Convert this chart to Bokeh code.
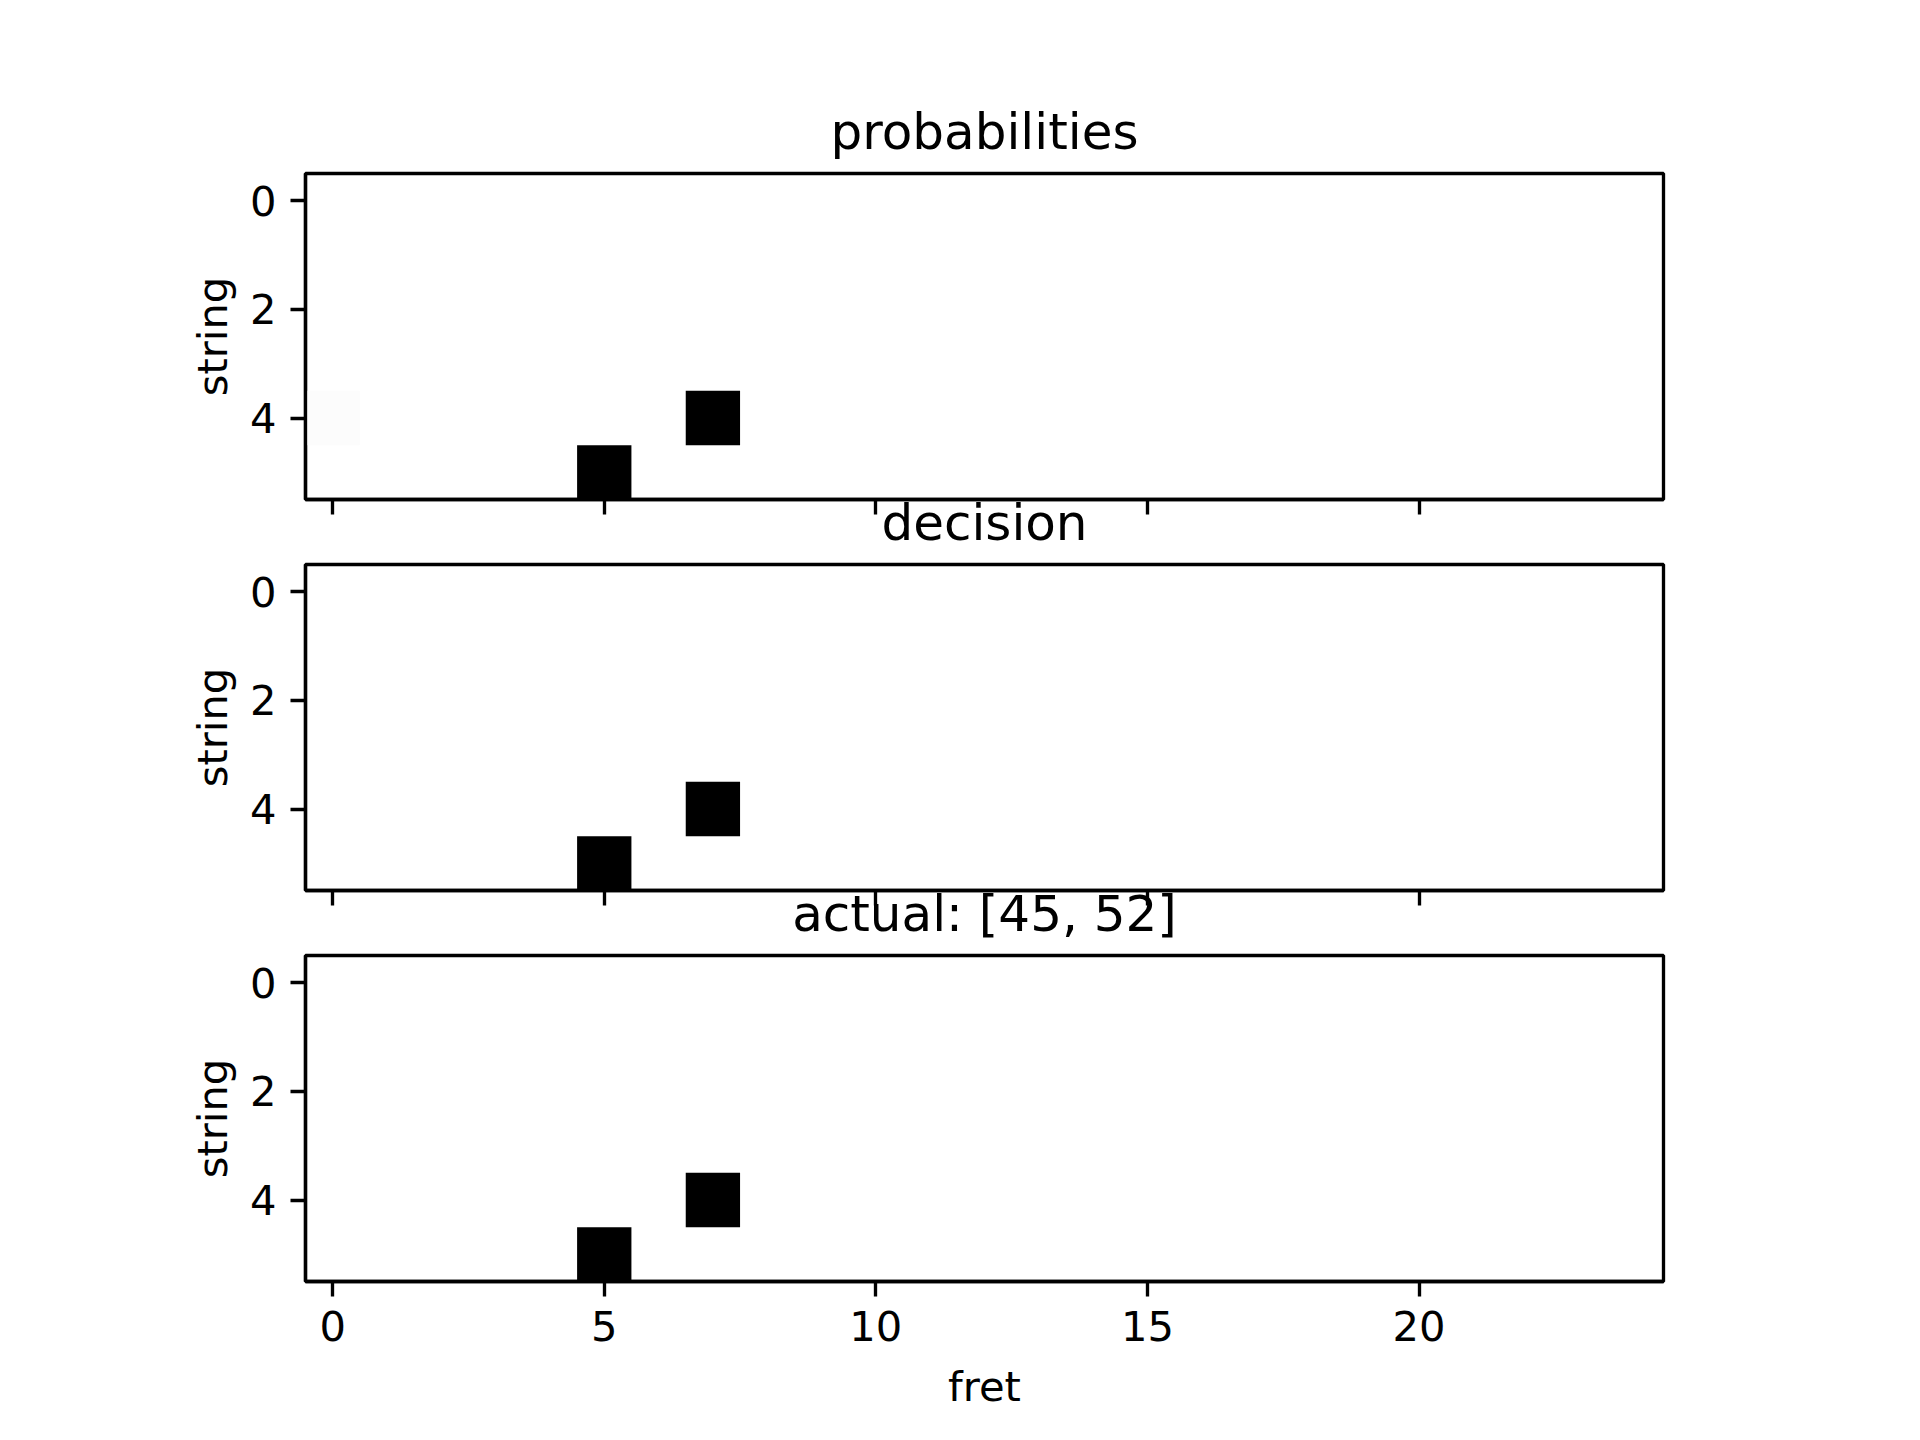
from bokeh.plotting import figure
from bokeh.layouts import column
from bokeh.models import Range1d, FixedTicker
from bokeh.palettes import Greys256
from bokeh.embed import file_html
from bokeh.resources import INLINE

# ---- data ----
n_frets = 25
n_strings = 6
x_ticks = [0, 5, 10, 15, 20]
y_ticks = [0, 2, 4]

titles = ["probabilities", "decision", "actual: [45, 52]"]

prob_fret = [0, 5, 7]
prob_string = [4, 5, 4]
prob_value = [0.012, 1.0, 1.0]

dec_fret = [5, 7]
dec_string = [5, 4]
dec_value = [1.0, 1.0]

act_fret = [5, 7]
act_string = [5, 4]
act_value = [1.0, 1.0]

panels = [
    (prob_fret, prob_string, prob_value),
    (dec_fret, dec_string, dec_value),
    (act_fret, act_string, act_value),
]

FONT = "DejaVu Sans"
TICK_FS = "41.67px"
TITLE_FS = "50px"
LW = 3.33

gray_r = list(reversed(Greys256))  # 0 -> white, 1 -> black (like matplotlib gray_r)

GAP = 65
TOP0 = 173
BOT = 100
TOPN = 100

figs = []
for i, ((fx, sy, vals), title) in enumerate(zip(panels, titles)):
    top_b = TOP0 if i == 0 else TOPN
    bot_b = 140 if i == 2 else BOT
    p = figure(
        frame_width=1358, frame_height=326,
        x_range=Range1d(-0.5, n_frets - 0.5),
        y_range=Range1d(n_strings - 0.5, -0.5),
        output_backend="svg", toolbar_location=None, tools="",
        min_border_left=305, min_border_right=200,
        min_border_top=top_b, min_border_bottom=bot_b,
        background_fill_color="white", border_fill_color=None,
        title=title,
    )
    if i > 0:
        p.margin = (-(BOT + TOPN - GAP), 0, 0, 0)
    p.title.text_font = FONT
    p.title.text_font_size = TITLE_FS
    p.title.text_font_style = "normal"
    p.title.text_color = "black"
    p.title.align = "center"
    p.title.standoff = 26

    p.grid.visible = False
    p.outline_line_color = "black"
    p.outline_line_width = LW
    p.outline_line_alpha = 1.0

    colors = [gray_r[min(255, int(round(v * 255)))] for v in vals]
    p.rect(x=fx, y=sy, width=1, height=1, fill_color=colors, line_color=None)

    for ax in (p.xaxis[0], p.yaxis[0]):
        ax.axis_line_color = "black"
        ax.axis_line_width = LW
        ax.major_tick_line_color = "black"
        ax.major_tick_line_width = LW
        ax.major_tick_in = 0
        ax.major_tick_out = 15
        ax.minor_tick_line_color = None
        ax.major_label_text_font = FONT
        ax.major_label_text_font_size = TICK_FS
        ax.major_label_text_color = "black"
        ax.major_label_standoff = 14
        ax.axis_label_text_font = FONT
        ax.axis_label_text_font_size = TICK_FS
        ax.axis_label_text_font_style = "normal"
        ax.axis_label_text_color = "black"
        ax.axis_label_standoff = 18

    p.yaxis.axis_label_standoff = 10
    p.xaxis.ticker = FixedTicker(ticks=x_ticks)
    p.yaxis.ticker = FixedTicker(ticks=y_ticks)
    p.yaxis.axis_label = "string"

    if i < 2:
        p.xaxis.major_label_text_color = None
    else:
        p.xaxis.axis_label = "fret"

    figs.append(p)

layout = column(*figs, spacing=0)
open("out.html", "w").write(file_html(layout, INLINE))
